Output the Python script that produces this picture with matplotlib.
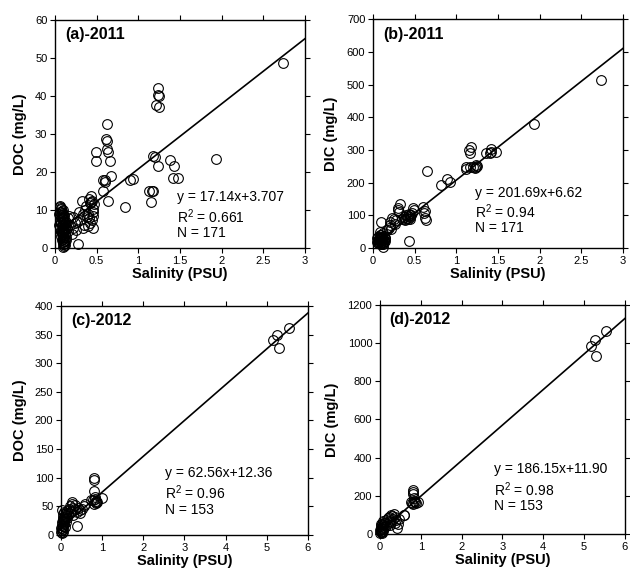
import matplotlib
matplotlib.use("Agg")
import matplotlib.pyplot as plt
import numpy as np

plt.rcParams['font.family'] = ['Liberation Sans', 'DejaVu Sans']
plt.rcParams['mathtext.fontset'] = 'custom'
plt.rcParams['mathtext.rm'] = 'Liberation Sans'
plt.rcParams['mathtext.it'] = 'Liberation Sans:italic'
plt.rcParams['mathtext.bf'] = 'Liberation Sans:bold'

# ---------------- Panel (a) 2011 DOC ----------------
pts_a = [
    (0.06,10.8),(0.07,10.2),(0.08,9.8),(0.06,9.4),(0.09,9.0),(0.07,8.6),(0.10,8.2),(0.08,7.9),(0.06,7.5),(0.11,7.2),
    (0.09,6.9),(0.07,6.5),(0.10,6.2),(0.08,5.9),(0.12,5.6),(0.06,5.3),(0.09,5.0),(0.11,4.7),(0.07,4.4),(0.10,4.1),
    (0.08,3.8),(0.12,3.5),(0.09,3.2),(0.11,2.9),(0.10,2.5),(0.08,2.2),(0.12,1.8),(0.10,1.5),(0.09,1.0),(0.11,0.6),
    (0.10,0.3),(0.07,10.5),(0.09,10.0),(0.05,8.9),(0.11,8.5),(0.07,7.0),(0.13,6.8),(0.05,6.0),(0.12,4.9),(0.08,4.3),
    (0.13,3.0),(0.09,2.6),(0.11,1.2),(0.06,11.2),(0.08,9.2),(0.10,7.6),(0.12,6.4),(0.14,5.2),(0.10,3.7),(0.13,2.2),
    (0.07,9.6),(0.09,8.0),(0.06,6.8),(0.10,5.4),(0.08,4.6),(0.12,3.9),(0.07,3.3),(0.11,2.0),(0.09,1.6),(0.12,0.9),
    (0.15,4.5),(0.16,7.8),(0.18,6.0),(0.20,3.8),(0.17,8.5),(0.22,8.2),(0.21,5.2),(0.24,6.5),(0.26,6.9),(0.28,1.2),
    (0.25,4.8),(0.30,7.4),(0.29,9.5),(0.32,12.5),(0.33,5.2),(0.34,9.1),(0.35,6.2),(0.36,10.0),(0.38,8.2),(0.37,11.0),
    (0.40,9.1),(0.41,13.0),(0.42,11.8),(0.42,6.5),(0.43,13.8),(0.44,7.4),(0.44,12.5),(0.45,10.4),(0.46,5.2),(0.46,8.5),
    (0.43,12.0),(0.41,7.8),(0.39,5.8),(0.47,11.5),(0.45,9.5),
    (0.49,25.2),(0.49,22.8),(0.58,14.9),(0.58,17.9),(0.60,17.5),(0.60,18.0),(0.62,32.7),(0.61,28.6),(0.62,28.2),(0.62,26.2),
    (0.64,25.4),(0.66,22.8),(0.67,19.1),(0.64,12.3),(0.84,10.8),(0.90,17.8),(0.93,18.1),(1.13,15.1),(1.16,15.1),(1.18,15.0),
    (1.15,12.0),(1.17,24.3),(1.20,24.1),(1.23,21.6),(1.21,37.6),(1.25,37.2),(1.24,40.3),(1.25,40.0),(1.24,42.0),(1.38,23.2),
    (1.43,21.5),(1.41,18.4),(1.47,18.4),(1.93,23.5),(2.74,48.6),
]
sal_a = [p[0] for p in pts_a]
doc_a = [p[1] for p in pts_a]

# ---------------- Panel (b) 2011 DIC ----------------
pts_b = [
    (0.05,20),(0.06,25),(0.07,18),(0.08,30),(0.09,22),(0.10,28),(0.11,35),(0.12,20),(0.13,25),(0.14,32),
    (0.06,15),(0.08,40),(0.10,15),(0.12,45),(0.09,35),(0.11,12),(0.13,38),(0.07,28),(0.15,30),(0.05,30),
    (0.10,20),(0.12,30),(0.14,22),(0.08,12),(0.09,48),(0.11,25),(0.13,18),(0.06,35),(0.10,40),(0.12,14),
    (0.12,2),(0.10,81),
    (0.17,55),(0.19,62),(0.20,70),(0.22,60),(0.23,92),(0.21,81),(0.25,88),(0.27,75),(0.30,122),(0.30,117),
    (0.32,135),(0.31,110),(0.28,85),
    (0.35,90),(0.37,95),(0.38,88),(0.40,100),(0.41,92),(0.42,98),(0.43,105),(0.44,95),(0.45,102),(0.46,100),
    (0.47,108),(0.39,85),(0.43,22),(0.48,124),(0.49,117),(0.42,90),(0.44,88),
    (0.60,127),(0.61,107),(0.62,92),(0.64,86),(0.63,115),(0.65,236),
    (0.82,192),(0.89,212),(0.92,203),
    (1.12,249),(1.11,241),(1.16,249),(1.15,300),(1.16,290),(1.18,310),(1.23,254),(1.24,249),(1.22,244),(1.20,247),
    (1.25,252),(1.36,292),(1.42,303),(1.41,295),(1.47,293),(1.40,290),(1.93,379),(2.74,516),
]
sal_b = [p[0] for p in pts_b]
dic_b = [p[1] for p in pts_b]

# ---------------- Panel (c) 2012 DOC ----------------
pts_c = [
    (0.01,5),(0.02,8),(0.03,12),(0.04,6),(0.05,15),(0.02,18),(0.06,10),(0.03,22),(0.07,25),(0.04,28),
    (0.08,20),(0.05,32),(0.09,14),(0.06,36),(0.10,28),(0.02,44),(0.11,33),(0.07,40),(0.12,22),(0.13,38),
    (0.03,3),(0.08,30),(0.14,42),(0.05,24),(0.01,12),(0.09,35),(0.15,30),(0.04,16),
    (0.17,38),(0.20,45),(0.22,50),(0.26,57),(0.27,54),(0.25,42),(0.30,48),(0.33,45),(0.38,40),(0.40,15),
    (0.42,48),(0.46,44),(0.45,38),(0.50,46),(0.58,54),(0.55,50),(0.35,52),(0.28,35),
    (0.74,62),(0.78,61),(0.81,99),(0.81,96),(0.81,77),(0.82,67),(0.84,60),(0.86,58),(0.85,56),(0.88,57),
    (0.83,63),(0.99,65),(0.80,55),
    (5.15,341),(5.25,349),(5.29,326),(5.54,361),
]
sal_c = [p[0] for p in pts_c]
doc_c = [p[1] for p in pts_c]

# ---------------- Panel (d) 2012 DIC ----------------
pts_d = [
    (0.01,5),(0.02,12),(0.03,20),(0.04,8),(0.05,30),(0.02,40),(0.06,15),(0.03,50),(0.07,25),(0.04,35),
    (0.08,45),(0.05,10),(0.09,60),(0.01,22),(0.06,55),(0.10,38),(0.07,70),(0.02,28),(0.08,18),
    (0.12,60),(0.15,75),(0.18,50),(0.20,85),(0.22,90),(0.25,70),(0.27,100),(0.30,95),(0.32,80),(0.35,105),
    (0.38,60),(0.40,75),(0.42,30),(0.44,55),(0.46,80),(0.14,40),(0.24,45),(0.36,88),(0.28,62),
    (0.58,100),(0.60,98),(0.76,170),(0.78,165),(0.80,222),(0.81,231),(0.82,210),(0.83,187),(0.84,175),
    (0.86,168),(0.88,160),(0.94,170),(0.80,155),
    (5.17,987),(5.27,1015),(5.28,931),(5.53,1062),
]
sal_d = [p[0] for p in pts_d]
dic_d = [p[1] for p in pts_d]

# regression coefficients (slope, intercept)
fits = [(17.14, 3.707), (201.69, 6.62), (62.56, 12.36), (186.15, 11.90)]
eq_texts = [
    ["y = 17.14x+3.707", r"R$^2$ = 0.661", "N = 171"],
    ["y = 201.69x+6.62", r"R$^2$ = 0.94", "N = 171"],
    ["y = 62.56x+12.36", r"R$^2$ = 0.96", "N = 153"],
    ["y = 186.15x+11.90", r"R$^2$ = 0.98", "N = 153"],
]
panel_labels = ["(a)-2011", "(b)-2011", "(c)-2012", "(d)-2012"]
ylabels = ["DOC (mg/L)", "DIC (mg/L)", "DOC (mg/L)", "DIC (mg/L)"]
xlims = [(0, 3), (0, 3), (0, 6), (0, 6)]
ylims = [(0, 60), (0, 700), (0, 400), (0, 1200)]
xticks = [np.arange(0, 3.01, 0.5), np.arange(0, 3.01, 0.5), np.arange(0, 7, 1), np.arange(0, 7, 1)]
xticklabels = [["0", "0.5", "1", "1.5", "2", "2.5", "3"]] * 2 + [["0", "1", "2", "3", "4", "5", "6"]] * 2
yticks = [np.arange(0, 61, 10), np.arange(0, 701, 100), np.arange(0, 401, 50), np.arange(0, 1201, 200)]

positions = [
    [0.0873, 0.567, 0.397, 0.398],
    [0.592, 0.567, 0.397, 0.399],
    [0.0968, 0.0663, 0.392, 0.3997],
    [0.603, 0.068, 0.389, 0.400],
]
text_pos = [
    (0.487, [0.226, 0.139, 0.066]),
    (0.408, [0.243, 0.160, 0.087]),
    (0.423, [0.272, 0.185, 0.109]),
    (0.467, [0.283, 0.195, 0.122]),
]

data = [(sal_a, doc_a), (sal_b, dic_b), (sal_c, doc_c), (sal_d, dic_d)]

fig = plt.figure(figsize=(6.30, 5.73), dpi=100)
for i in range(4):
    ax = fig.add_axes(positions[i])
    x, y = data[i]
    ax.plot(x, y, linestyle='none', marker='o', markersize=7.0,
            markerfacecolor='none', markeredgecolor='black', markeredgewidth=0.8,
            clip_on=False, zorder=3)
    m, b = fits[i]
    xl = np.array(xlims[i], dtype=float)
    ax.plot(xl, m * xl + b, color='black', linewidth=1.2, zorder=2, clip_on=True)
    ax.set_xlim(*xlims[i])
    ax.set_ylim(*ylims[i])
    ax.set_xticks(xticks[i])
    ax.set_xticklabels(xticklabels[i])
    ax.set_yticks(yticks[i])
    ax.tick_params(direction='out', length=3.5, width=0.8, labelsize=8,
                   top=True, right=True, labeltop=False, labelright=False, pad=2)
    for s in ax.spines.values():
        s.set_linewidth(1.0)
    ax.set_xlabel("Salinity (PSU)", fontsize=10.5, fontweight='bold', labelpad=1)
    ax.set_ylabel(ylabels[i], fontsize=10.5, fontweight='bold', labelpad=6)
    ax.text(0.04, 0.935, panel_labels[i], transform=ax.transAxes, fontsize=11.5,
            fontweight='bold', va='center', ha='left')
    tx, tys = text_pos[i]
    for t, ty in zip(eq_texts[i], tys):
        ax.text(tx, ty, t, transform=ax.transAxes, fontsize=10, va='center', ha='left')

fig.savefig("out.png", dpi=100)
